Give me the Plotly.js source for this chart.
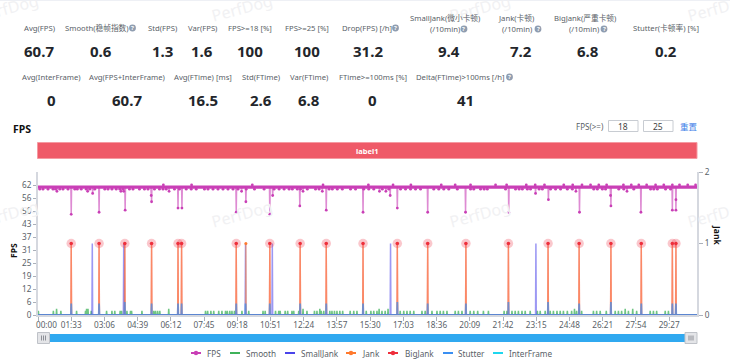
<!DOCTYPE html>
<html><head><meta charset="utf-8">
<script src="https://cdn.plot.ly/plotly-3.0.1.min.js"></script>
<style>html,body{margin:0;padding:0;background:#fff}#c{width:730px;height:362px}</style></head>
<body><div id="c"></div>
<script>
const xEnd = 1845;
const xTickSeconds = [0,93,186,279,372,465,558,651,744,837,930,1023,1116,1209,1302,1395,1488,1581,1674,1767];
const xTickLabels = ['','01:33','03:06','04:39','06:12','07:45','09:18','10:51','12:24','13:57','15:30','17:03','18:36','20:09','21:42','23:15','24:48','26:21','27:54','29:27'];
const fpsTickValues = [0,6.2,12.4,18.6,24.8,31,37.2,43.4,49.6,55.8,62];
const fpsTickLabels = ['0','6','12','19','25','31','37','43','50','56','62'];

const bigJankTimes = [93,171,243,318,392,402,555,649,734,807,910,1006,1091,1198,1317,1428,1515,1604,1689,1776,1786];
const jankTimes = [93,171,243,318,392,402,555,582,649,734,807,910,1006,1091,1198,1317,1428,1515,1604,1689,1776,1786];
const smallJankTimes = [152,240,581,656,987,1394];
const stutterTimes = [93,171,243,318,392,402,555,581,649,734,807,910,1006,1091,1198,1317,1428,1515,1604,1689,1776,1786];
const stutterValues = [0.16,0.16,0.18,0.16,0.16,0.16,0.16,0.16,0.16,0.16,0.16,0.16,0.18,0.16,0.16,0.18,0.18,0.16,0.18,0.16,0.16,0.16];

const smoothTimes = [1,43,52,64,108,133,136,140,149,192,207,215,230,234,249,259,262,291,324,329,335,341,366,469,475,484,492,506,515,525,530,537,543,550,571,590,630,636,665,674,678,692,699,711,716,730,742,753,774,781,789,793,800,817,823,830,837,845,853,874,884,893,919,932,940,949,955,963,972,980,1014,1024,1033,1042,1052,1075,1084,1103,1117,1126,1135,1145,1168,1177,1187,1210,1220,1231,1247,1261,1305,1313,1327,1336,1345,1355,1364,1378,1398,1406,1420,1434,1443,1453,1462,1471,1482,1494,1502,1508,1522,1555,1564,1574,1591,1616,1625,1634,1644,1653,1665,1676,1714,1723,1732,1756,1765];
const smoothValues = [2,2,3,2,2,2,3,3,2,2,2,2,2,2,2,2,2,2,2,2,2,2,3,2,2,2,2,2,2,2,2,2,2,2,2,2,2,2,2,2,2,2,2,2,2,2,3,2,2,2,3,2,2,2,2,2,2,2,2,2,2,2,2,2,2,2,3,2,2,3,2,2,2,2,2,2,2,2,2,2,2,2,2,2,2,2,2,2,2,2,2,2,2,2,2,2,2,2,2,2,2,2,2,2,2,2,2,2,3,2,2,2,2,2,2,2,2,2,3,2,3,2,2,2,2,2,2];

const fpsDipTimes = [53,93,139,153,171,232,240,244,317,318,367,392,403,555,570,582,649,657,733,742,796,807,910,956,974,986,1006,1091,1197,1318,1393,1429,1506,1516,1603,1604,1649,1688,1776,1786,1786];
const fpsDipValues = [59,48,59,58,49,59,59,50,57,54,59,51,51,49,59,54,48,57,52,59,59,50,49,59,59,57,51,49,49,49,58,55,59,49,57,52,59,49,50,55,50];
const fpsUpTimes = [351,430,600,798,925,994,1044,1129,1168,1211,1281,1312,1367,1392,1418,1472,1497,1523,1547,1570,1592,1639,1661,1682,1704,1729,1752,1776,1796,1819,1841];
const fpsUpValues = [62,62,62,62,62,62,62,62,62,62,62,62,62,62,62,62,62,62,62,62,62,62,62,62,62,62,62,62,62,62,62];
const fpsLowTimes = [5,14,28,42,49,61,70,84,103,110,121,135,145,159,187,196,207,219,229,238,256,266,284,298,308,326,340,350,359,382,396,415,429,443,466,476,490,504,518,532,546,560,583,606,633,661,675,689,703,712,726,735,754,777,787,815,824,838,852,875,889,912,926,940,964,982,1015,1029,1043,1057,1071,1108,1122,1136,1150,1174,1211,1220,1239,1249,1258,1309,1337,1347,1356,1370,1379,1403,1412,1435,1449,1463,1482,1496,1556,1566,1580,1589,1626,1640,1668,1715,1724,1734,1757,1771];
const fpsLowValue = 60;
const fpsBaseValue = 61;

const FONT = '"Noto Sans","Noto Sans CJK SC",sans-serif';
const cFPS='#c93fb6', cSmooth='#3fb25a', cSmall='#4a44ea', cJank='#ff7a2e', cBig='#ee2f3c', cStutter='#3a8ff2', cInter='#1fd6ee';

function spikes(times, values, base){
  const xs=[0], ys=[base];
  times.forEach((t,i)=>{ xs.push(t-1,t,t+1); ys.push(base,values[i],base); });
  xs.push(xEnd); ys.push(base);
  return {x:xs,y:ys};
}
const ones = a => a.map(()=>1);
function spikeTrace(name, s, color, width, yaxis, opacity){
  return {type:'scatter',mode:'lines',name,x:s.x,y:s.y,yaxis,opacity,cliponaxis:false,
    line:{color,width,simplify:false},hoverinfo:'skip',showlegend:false};
}
const traces = [
  spikeTrace('InterFrame', {x:[0,xEnd],y:[0,0]}, cInter, 1.2, 'y2', 1),
  spikeTrace('Smooth', spikes(smoothTimes,smoothValues,0), cSmooth, 1.5, 'y', 0.75),
  spikeTrace('BigJank', spikes(bigJankTimes,ones(bigJankTimes),0), cBig, 1.4, 'y2', 0.5),
  spikeTrace('SmallJank', spikes(smallJankTimes,ones(smallJankTimes),0), cSmall, 1.5, 'y2', 0.55),
  spikeTrace('Jank', spikes(jankTimes,ones(jankTimes),0), cJank, 1.4, 'y2', 0.5),
  spikeTrace('Stutter', spikes(stutterTimes,stutterValues,0), cStutter, 1.8, 'y2', 0.7),
  spikeTrace('FPS dips', spikes(fpsDipTimes,fpsDipValues,fpsBaseValue), cFPS, 1.5, 'y', 0.6),
  spikeTrace('FPS', {x:[0,xEnd],y:[fpsBaseValue,fpsBaseValue]}, cFPS, 3.4, 'y', 1),
  {type:'scatter',mode:'markers',name:'FPS points',yaxis:'y',hoverinfo:'skip',showlegend:false,
   x:fpsDipTimes.concat(fpsUpTimes,fpsLowTimes),
   y:fpsDipValues.concat(fpsUpValues,fpsLowTimes.map(()=>fpsLowValue)),
   marker:{color:cFPS,size:2.8,line:{width:0}},cliponaxis:false},
  {type:'scatter',mode:'markers',name:'BigJank halo',yaxis:'y2',hoverinfo:'skip',showlegend:false,
   x:bigJankTimes,y:ones(bigJankTimes),marker:{color:'rgba(238,70,85,0.3)',size:9.5,line:{width:0}}},
  {type:'scatter',mode:'markers',name:'BigJank points',yaxis:'y2',hoverinfo:'skip',showlegend:false,
   x:bigJankTimes,y:ones(bigJankTimes),marker:{color:cBig,size:3.6,line:{width:0}}},
  {type:'scatter',mode:'markers',name:'Jank points',yaxis:'y2',hoverinfo:'skip',showlegend:false,
   x:[582],y:[1],marker:{color:cJank,size:3,line:{width:0}}}
];

const W=730,H=362,L=38,R=697,T=172,B=315;
const px = x => (x-L)/(R-L), py = y => (B-y)/(B-T);
const anns=[], shapes=[];
function txt(t,x,y,o={}){
  anns.push({text:t,xref:'paper',yref:'paper',x:px(x),y:py(y),showarrow:false,
    xanchor:o.xa||'center',yanchor:'middle',font:{family:FONT,size:o.size||7.7,color:o.color||'#5a5f68',weight:o.weight||400},
    textangle:o.angle||0,borderpad:0,borderwidth:0});
}
function rect(x0,y0,x1,y1,fill,lw,lc,layer){
  shapes.push({type:'rect',xref:'paper',yref:'paper',x0:px(x0),x1:px(x1),y0:py(y0),y1:py(y1),fillcolor:fill,line:{width:lw||0,color:lc||fill},layer:layer||'above'});
}
function circ(cx,cy,r,fill){
  shapes.push({type:'circle',xref:'paper',yref:'paper',x0:px(cx-r),x1:px(cx+r),y0:py(cy-r),y1:py(cy+r),fillcolor:fill,line:{width:0},layer:'above'});
}
function help(x,y){ circ(x,y,3.4,'#8f9db0'); txt('?',x,y,{size:6,color:'#fff',weight:700}); }

// watermark
[[8,8],[242,8],[480,8],[718,8],[8,214],[242,214],[480,214],[718,214]].forEach(p=>txt('PerfDog',p[0],p[1],{size:16,color:'#f1f1f3',angle:-15}));
rect(0,0,730,1,'#eef0f5');

// KPI labels and values
const kpiLabels = [
 ['Avg(FPS)',39,28],['Smooth(稳帧指数)',97,28],['Std(FPS)',162,28],['Var(FPS)',202,28],['FPS>=18 [%]',250,28],['FPS>=25 [%]',307,28],['Drop(FPS) [/h]',367,28],
 ['SmallJank(微小卡顿)',445,18],['(/10min)',445,29],['Jank(卡顿)',516,18],['(/10min)',517,29],['BigJank(严重卡顿)',585,18],['(/10min)',584,29],['Stutter(卡顿率) [%]',666,28],
 ['Avg(InterFrame)',51,77],['Avg(FPS+InterFrame)',127,77],['Avg(FTime) [ms]',203,77],['Std(FTime)',261,77],['Var(FTime)',309,77],['FTime>=100ms [%]',373,77],['Delta(FTime)>100ms [/h]',461,77]];
kpiLabels.forEach(k=>txt(k[0],k[1],k[2]));
const kpiValues = [
 ['60.7',39,51],['0.6',101,51],['1.3',162,51],['1.6',202,51],['100',250,51],['100',307,51],['31.2',368,51],['9.4',449,51],['7.2',521,51],['6.8',588,51],['0.2',666,51],
 ['0',51,100],['60.7',127,100],['16.5',203,100],['2.6',261,100],['6.8',309,100],['0',372,100],['41',466,100]];
kpiValues.forEach(k=>txt(k[0],k[1],k[2],{size:15,color:'#23262b',weight:700}));
[[132.5,28],[395.5,28],[464,29],[538,29],[604,29],[509.5,77]].forEach(p=>help(p[0],p[1]));

// header row
txt('FPS',22,129,{size:10.5,color:'#111',weight:700});
txt('FPS(>=)',590,126,{size:8});
rect(608.5,120.5,638,131.5,'#fff',1,'#c8ccd2');
rect(643.5,120.5,673,131.5,'#fff',1,'#c8ccd2');
txt('18',623,126,{size:8.5,color:'#444'});
txt('25',658,126,{size:8.5,color:'#444'});
txt('重置',689,126,{size:8.5,color:'#3f7fe8'});

// label band
rect(37.5,142.5,697,158.5,'#ef5a68',1,'#f59aa2');
txt('label1',367,151,{size:7.5,color:'#fff',weight:700});

// axis titles and first tick label
txt('FPS',13,251,{size:8.5,color:'#111',weight:700,angle:-90});
txt('Jank',717,235,{size:8.5,color:'#111',weight:700,angle:90});
txt('00:00',46.5,324.5,{size:8.2});

// zoom bar
rect(49,334,686,342,'#30a9f0');
[[37.5,49.5],[685,697]].forEach(h=>{
  rect(h[0],332.5,h[1],343.5,'#e4e5e8',1,'#bfc2c8');
  const m=(h[0]+h[1])/2;
  [-2,0,2].forEach(d=>rect(m+d-0.4,335.5,m+d+0.4,340.5,'#777b82'));
});

// legend
const legendItems = [
 ['FPS',191,207,cFPS,true],['Smooth',230,246,cSmooth,false],['SmallJank',285,301,cSmall,false],['Jank',346,362,cJank,true],
 ['BigJank',388,405,cBig,true],['Stutter',443,458,cStutter,false],['InterFrame',493,509,cInter,false]];
legendItems.forEach(l=>{
  rect(l[1],352,l[1]+10,354,l[3]);
  if(l[4]) circ(l[1]+5,353,2.2,l[3]);
  txt(l[0],l[2],353,{xa:'left',size:8.2});
});

const axisGray='#d5d8df', tickFont={family:FONT,size:8.2,color:'#5a5f68'};
const layout = {
  width:W,height:H,paper_bgcolor:'rgba(0,0,0,0)',plot_bgcolor:'rgba(0,0,0,0)',showlegend:false,
  margin:{l:L,r:W-R,t:T,b:H-B,pad:0},
  font:{family:FONT},
  xaxis:{range:[0,xEnd],tickmode:'array',tickvals:xTickSeconds,ticktext:xTickLabels,showgrid:false,zeroline:false,
    showline:true,linecolor:axisGray,linewidth:2,ticks:'outside',ticklen:4,tickcolor:'#aab0ba',tickwidth:1,tickfont:tickFont,tickangle:0,ticklabelstandoff:-3},
  yaxis:{range:[0,68.2],tickmode:'array',tickvals:fpsTickValues,ticktext:fpsTickLabels,showgrid:false,zeroline:false,
    showline:true,linecolor:axisGray,linewidth:2,ticks:'outside',ticklen:3,tickcolor:'#aab0ba',tickwidth:1,tickfont:tickFont},
  yaxis2:{range:[0,2],overlaying:'y',side:'right',tickmode:'array',tickvals:[0,1,2],ticktext:['0','1','2'],showgrid:false,zeroline:false,
    showline:true,linecolor:axisGray,linewidth:2,ticks:'outside',ticklen:4,tickcolor:'#aab0ba',tickwidth:1,tickfont:tickFont},
  annotations:anns,shapes:shapes
};
Plotly.newPlot('c',traces,layout,{displayModeBar:false,staticPlot:true});
</script></body></html>
